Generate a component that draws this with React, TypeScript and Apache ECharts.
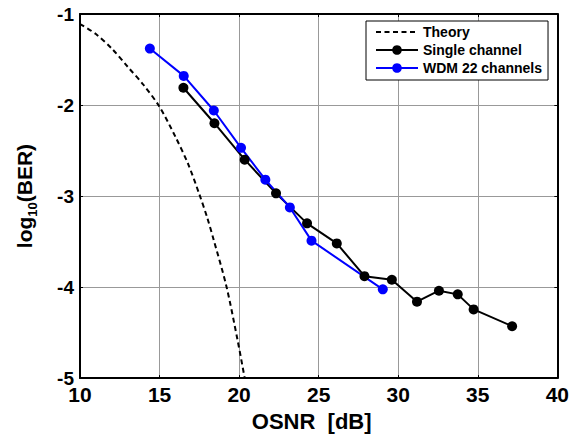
import React, { useEffect, useRef } from "react";
import * as echarts from "echarts";

const xTicks = [10, 15, 20, 25, 30, 35, 40];
const yTicks = [-5, -4, -3, -2, -1];

const theoryX = [10, 11, 12, 13, 14, 15, 16, 16.8, 17.5, 18, 18.4, 19.2, 19.9, 20.35];
const theoryY = [-1.11, -1.22, -1.38, -1.58, -1.78, -2.02, -2.35, -2.65, -2.98, -3.24, -3.48, -3.99, -4.58, -5.0];

const singleX = [16.5, 18.45, 20.35, 22.32, 24.27, 26.14, 27.88, 29.6, 31.18, 32.56, 33.74, 34.74, 37.16];
const singleY = [-1.81, -2.2, -2.6, -2.97, -3.3, -3.52, -3.88, -3.92, -4.16, -4.04, -4.08, -4.245, -4.43];

const wdmX = [14.39, 16.52, 18.41, 20.12, 21.65, 23.19, 24.55, 29.03];
const wdmY = [-1.38, -1.68, -2.06, -2.47, -2.82, -3.125, -3.49, -4.025];

const zip = (xs: number[], ys: number[]) => xs.map((x, i) => [x, ys[i]]);

const FONT = "'Liberation Sans', Arial, sans-serif";

export default function App() {
  const ref = useRef<HTMLDivElement>(null);
  useEffect(() => {
    if (!ref.current) return;
    const chart = echarts.init(ref.current, undefined, { renderer: "svg" });
    const axisLine = { show: true, lineStyle: { color: "#000", width: 2 } };
    const tick = { show: true, inside: true, length: 3, lineStyle: { color: "#000", width: 1 } };
    chart.setOption({
      animation: false,
      backgroundColor: "#fff",
      grid: { left: 80, right: 14, top: 14, bottom: 58, containLabel: false },
      legend: {
        orient: "vertical",
        left: 366,
        top: 21,
        padding: [4, 6, 5, 9],
        itemWidth: 42,
        itemHeight: 12,
        itemGap: 4,
        backgroundColor: "#fff",
        borderColor: "#000",
        borderWidth: 1,
        borderRadius: 0,
        textStyle: { fontFamily: FONT, fontWeight: "bold", fontSize: 14, color: "#000" },
        data: [
          { name: "Theory", itemStyle: { opacity: 0 } },
          { name: "Single channel" },
          { name: "WDM 22 channels" },
        ],
      },
      xAxis: [
        {
          type: "value",
          min: 10,
          max: 40,
          interval: 5,
          position: "bottom",
          name: "OSNR  [dB]",
          nameLocation: "middle",
          nameGap: 30,
          nameTextStyle: { fontFamily: FONT, fontWeight: "bold", fontSize: 22, color: "#000", padding: [0, 14, 0, 0] },
          axisLine,
          axisTick: tick,
          axisLabel: {
            fontFamily: FONT,
            fontWeight: "bold",
            fontSize: 21,
            color: "#000",
            margin: 6,
            formatter: (v: number) => (xTicks.includes(v) ? String(v) : ""),
          },
          splitLine: { show: true, lineStyle: { color: "#999", width: 1 } },
        },
        {
          type: "value",
          min: 10,
          max: 40,
          interval: 5,
          position: "top",
          axisLine,
          axisTick: tick,
          axisLabel: { show: false },
          splitLine: { show: false },
        },
      ],
      yAxis: [
        {
          type: "value",
          min: -5,
          max: -1,
          interval: 1,
          position: "left",
          name: "log{sub|10}(BER)",
          nameLocation: "middle",
          nameGap: 41,
          nameRotate: 90,
          nameTextStyle: {
            fontFamily: FONT,
            fontWeight: "bold",
            fontSize: 21,
            color: "#000",
            lineHeight: 30,
            rich: {
              sub: {
                fontFamily: FONT,
                fontWeight: "bold",
                fontSize: 13,
                color: "#000",
                lineHeight: 14,
                verticalAlign: "bottom",
              },
            },
          },
          axisLine,
          axisTick: tick,
          axisLabel: {
            fontFamily: FONT,
            fontWeight: "bold",
            fontSize: 19,
            color: "#000",
            margin: 6,
            formatter: (v: number) => (yTicks.includes(v) ? String(v) : ""),
          },
          splitLine: { show: true, lineStyle: { color: "#999", width: 1 } },
        },
        {
          type: "value",
          min: -5,
          max: -1,
          interval: 1,
          position: "right",
          axisLine,
          axisTick: tick,
          axisLabel: { show: false },
          splitLine: { show: false },
        },
      ],
      series: [
        {
          name: "Theory",
          type: "line",
          xAxisIndex: 0,
          yAxisIndex: 0,
          data: zip(theoryX, theoryY),
          smooth: 0.3,
          showSymbol: false,
          symbol: "none",
          lineStyle: { color: "#000", width: 2, type: [5, 3.5] },
          itemStyle: { color: "#000" },
        },
        {
          name: "Single channel",
          type: "line",
          xAxisIndex: 0,
          yAxisIndex: 0,
          data: zip(singleX, singleY),
          symbol: "circle",
          symbolSize: 10,
          lineStyle: { color: "#000", width: 2 },
          itemStyle: { color: "#000" },
        },
        {
          name: "WDM 22 channels",
          type: "line",
          xAxisIndex: 0,
          yAxisIndex: 0,
          data: zip(wdmX, wdmY),
          symbol: "circle",
          symbolSize: 10,
          lineStyle: { color: "#0000ff", width: 2 },
          itemStyle: { color: "#0000ff" },
        },
      ],
    });
    return () => chart.dispose();
  }, []);
  return (
    <div
      ref={ref}
      style={{ position: "fixed", left: 0, top: 0, width: 572, height: 437, background: "#fff" }}
    />
  );
}
